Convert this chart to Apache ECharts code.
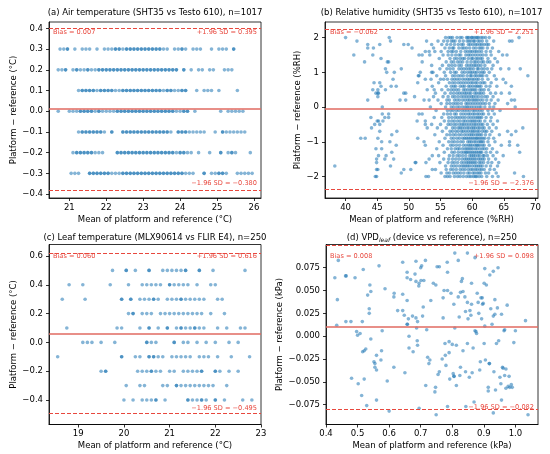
<!DOCTYPE html>
<html>
<head>
<meta charset="utf-8">
<script src="https://cdn.jsdelivr.net/npm/echarts@6/dist/echarts.min.js"></script>
<style>
html, body { margin: 0; padding: 0; background: #fff; }
#container { width: 550px; height: 454px; }
</style>
</head>
<body>
<div id="container"></div>
<script>
// (a) air temperature: difference levels and the means seen on each level
var airLevels = [0.3, 0.2, 0.1, 0.0, -0.1, -0.2, -0.3];
var airMean = [
    [20.75, 20.85, 20.95, 21.15, 21.35, 21.45, 21.55, 21.75, 21.95, 22.05, 22.15, 22.25, 22.35, 22.45, 22.55, 22.65, 22.75, 22.85, 22.95, 23.05, 23.15, 23.25, 23.35, 23.45, 23.55, 23.65, 23.85, 23.95, 24.05, 24.15, 24.35, 24.45, 24.55, 24.85, 25.05, 25.15, 25.25, 25.45],
    [20.7, 20.8, 20.9, 21.1, 21.2, 21.3, 21.4, 21.5, 21.6, 21.7, 21.8, 21.9, 22.0, 22.1, 22.2, 22.3, 22.4, 22.5, 22.6, 22.7, 22.8, 22.9, 23.0, 23.1, 23.2, 23.3, 23.4, 23.5, 23.6, 23.7, 23.8, 23.9, 24.1, 24.3, 24.5, 24.6, 24.8, 24.9, 25.2, 25.3, 25.4],
    [21.25, 21.35, 21.45, 21.55, 21.65, 21.75, 21.85, 21.95, 22.05, 22.15, 22.25, 22.35, 22.45, 22.55, 22.65, 22.75, 22.85, 22.95, 23.05, 23.15, 23.25, 23.35, 23.45, 23.55, 23.65, 23.75, 23.85, 23.95, 24.05, 24.15, 24.45, 24.65, 24.75, 24.85, 25.05, 25.55],
    [20.7, 21.0, 21.1, 21.2, 21.3, 21.4, 21.5, 21.6, 21.7, 21.8, 21.9, 22.0, 22.1, 22.2, 22.3, 22.4, 22.5, 22.6, 22.7, 22.8, 22.9, 23.0, 23.1, 23.2, 23.3, 23.4, 23.5, 23.6, 23.7, 23.8, 23.9, 24.0, 24.1, 24.2, 24.4, 25.1, 25.3, 25.4, 25.5, 25.6, 25.7],
    [21.25, 21.35, 21.45, 21.55, 21.65, 21.75, 21.85, 21.95, 22.15, 22.45, 22.55, 22.65, 22.75, 22.85, 22.95, 23.05, 23.15, 23.25, 23.35, 23.45, 23.55, 23.65, 23.75, 23.95, 24.05, 24.15, 24.25, 24.35, 24.45, 24.55, 24.65, 24.95, 25.15, 25.25, 25.35, 25.45, 25.55, 25.65, 25.75],
    [21.1, 21.2, 21.3, 21.4, 21.5, 21.6, 21.7, 21.8, 21.9, 22.3, 22.4, 22.5, 22.6, 22.7, 22.8, 22.9, 23.0, 23.1, 23.2, 23.3, 23.4, 23.5, 23.6, 23.7, 23.8, 23.9, 24.0, 24.1, 24.2, 24.3, 24.5, 24.8, 25.1, 25.3, 25.4, 25.5, 25.9],
    [21.05, 21.15, 21.25, 21.55, 21.65, 21.75, 21.85, 21.95, 22.05, 22.15, 22.25, 22.35, 22.45, 22.55, 22.65, 22.75, 22.85, 22.95, 23.05, 23.15, 23.25, 23.35, 23.45, 23.55, 23.65, 23.75, 23.85, 23.95, 24.05, 24.15, 24.25, 24.35, 24.65, 24.85, 24.95, 25.05, 25.15, 25.25, 25.55, 25.65, 25.75, 25.85, 25.95]
];
// means that occur more than once on a level (darker dots)
var airRepeat = [
    [20.95, 22.25, 22.35, 22.55, 22.65, 22.75, 22.85, 22.95, 23.05, 23.15, 23.25, 23.35, 23.45, 24.05, 25.45],
    [20.9, 21.2, 21.5, 21.8, 21.9, 22.0, 22.1, 22.2, 22.3, 22.4, 22.5, 22.6, 22.7, 22.8, 22.9, 23.0, 23.1, 23.2, 23.3, 23.4, 23.5, 23.6, 23.7, 23.8, 23.9, 24.1],
    [21.35, 21.45, 21.55, 21.65, 21.85, 21.95, 22.05, 22.15, 22.45, 22.55, 22.65, 22.75, 22.85, 22.95, 23.05, 23.15, 23.25, 23.35, 23.45, 23.65, 23.75, 24.05, 24.15],
    [21.3, 21.4, 21.5, 21.6, 21.8, 22.3, 22.4, 22.5, 22.6, 22.7, 22.8, 22.9, 23.0, 23.1, 23.2, 23.3, 23.4, 23.5, 23.6, 23.7, 23.8, 24.1, 24.2],
    [21.35, 21.45, 21.55, 21.65, 21.75, 21.85, 22.15, 22.45, 22.55, 22.65, 22.75, 22.85, 22.95, 23.05, 23.15, 23.25, 23.35, 23.45, 23.55, 23.65, 23.95, 24.05, 24.15, 25.15],
    [21.2, 21.3, 21.4, 21.5, 21.6, 22.3, 22.4, 22.5, 22.6, 22.7, 22.8, 22.9, 23.0, 23.1, 23.2, 23.3, 23.4, 23.5, 23.6, 23.7, 23.8, 24.0, 24.1, 25.1, 25.4],
    [21.55, 21.65, 21.75, 21.85, 21.95, 22.05, 22.45, 22.55, 22.65, 22.75, 22.85, 22.95, 23.05, 23.15, 23.25, 23.35, 23.45, 23.55, 23.65, 23.75, 23.85, 23.95, 24.05, 24.65, 25.05, 25.15]
];

// (b) relative humidity: scattered points outside the dense band
var rhSparse = [
    [40.0, 2.0], [41.8, 1.9], [43.5, 1.8], [43.5, 1.7], [44.4, 1.7], [45.4, 1.8], [46.9, 2.0], [47.1, 1.9], [49.2, 1.8], [49.9, 1.8], [50.5, 1.7],
    [41.3, 1.5], [43.0, 1.3], [44.3, 1.5], [45.6, 1.4], [46.6, 1.3], [46.8, 1.3], [46.3, 1.1], [46.5, 1.0], [47.7, 1.0], [48.8, 1.1],
    [47.5, 0.8], [44.5, 0.7], [45.4, 0.7], [45.6, 0.6], [47.2, 0.6], [48.0, 0.6], [44.3, 0.5], [45.1, 0.5], [46.3, 0.5], [44.8, 0.4],
    [45.1, 0.4], [45.2, 0.4], [45.1, 0.3], [43.5, 0.2], [48.6, 0.2], [49.5, 0.2], [49.5, 0.4], [50.9, 0.3], [45.8, 0.0], [44.0, -0.3],
    [45.0, -0.4], [45.2, -0.4], [44.6, -0.5], [45.4, -0.5], [45.9, -0.4], [46.2, -0.3], [44.1, -0.6], [46.8, -0.2], [46.8, -0.3], [45.8, -0.2],
    [45.4, -0.7], [47.3, -0.8], [48.1, -0.7], [42.4, -0.9], [43.1, -0.9], [45.1, -0.9], [47.0, -1.0], [45.7, -1.0], [48.0, -1.1], [44.8, -1.2],
    [45.7, -1.2], [47.3, -1.3], [45.2, -1.4], [46.4, -1.4], [44.9, -1.5], [46.2, -1.5], [47.6, -1.5], [38.3, -1.7], [44.9, -1.6], [47.1, -1.7],
    [44.9, -1.8], [45.1, -1.8], [44.7, -2.0], [44.9, -2.0], [49.2, -1.8], [48.8, -1.9], [50.3, -1.8], [51.0, -1.6], [51.1, -1.6], [51.4, -0.9],
    [51.3, -0.4], [51.6, -0.2], [52.1, -0.2], [51.5, 0.9], [51.6, 0.9], [51.8, 1.0], [51.4, 0.7], [52.6, 0.8], [51.6, 1.5], [52.1, 1.5],
    [52.6, 1.6], [52.1, 1.3], [52.8, 1.9], [53.6, 1.8], [53.2, 1.6], [52.6, -0.4], [52.6, -0.5], [52.9, -0.6], [52.4, -1.0], [52.6, -1.1],
    [52.7, -2.0], [53.1, -2.0], [52.7, -1.6], [53.7, -1.4], [53.7, -1.8], [52.9, 0.5], [52.4, 0.2], [53.2, 0.2], [53.6, 1.0], [54.0, 0.5],
    [49.2, 0.4], [67.4, 2.0], [66.3, 1.9], [64.8, 1.5], [67.6, 1.1], [65.8, 1.1], [68.8, 0.9], [64.9, 0.8], [65.3, 0.7], [66.2, 0.6],
    [64.6, 0.4], [66.7, 0.2], [65.6, 0.1], [66.8, 0.0], [68.0, -0.6], [65.6, -0.7], [66.2, -0.8], [65.9, -1.1], [67.2, -1.1], [67.5, -1.3],
    [64.9, -1.4], [68.1, -2.0], [66.7, -1.9], [65.9, 1.9], [65.5, 1.5], [66.9, -0.7], [65.9, -1.0], [65.9, 0.4], [66.2, 0.2]
];
// (b) dense band: one row of means per 0.1 %RH difference level
var rhLevels = [2.0, 1.9, 1.8, 1.7, 1.6, 1.5, 1.4, 1.3, 1.2, 1.1, 1.0, 0.9, 0.8, 0.7, 0.6, 0.5, 0.4, 0.3, 0.2, 0.1, 0.0,
    -0.1, -0.2, -0.3, -0.4, -0.5, -0.6, -0.7, -0.8, -0.9, -1.0, -1.1, -1.2, -1.3, -1.4, -1.5, -1.6, -1.7, -1.8, -1.9, -2.0];
var rhMean = [
    [55.8, 56.3, 56.9, 57.6, 58.4, 59.1, 59.5, 59.9, 60.3, 60.6, 61.0, 61.4, 62.1, 62.7],
    [54.6, 55.5, 56.1, 56.7, 57.3, 58.0, 59.2, 59.8, 60.4, 60.9, 61.6, 62.3, 63.4],
    [55.2, 56.0, 56.6, 57.8, 58.6, 59.4, 60.1, 60.8, 61.2, 61.9, 62.6],
    [53.9, 55.7, 56.4, 57.1, 57.9, 58.7, 59.6, 60.2, 61.1, 61.7, 62.4, 63.2],
    [54.1, 55.1, 56.2, 57.0, 57.5, 58.9, 59.3, 60.0, 60.7, 61.5, 62.9, 64.2],
    [53.3, 55.4, 56.8, 57.4, 58.2, 59.0, 59.7, 60.5, 61.3, 62.2, 63.0],
    [54.8, 56.5, 57.2, 58.1, 58.8, 59.4, 60.1, 60.9, 61.6, 62.5, 63.6],
    [55.9, 56.7, 57.7, 58.5, 59.8, 60.3, 61.0, 61.8, 62.8, 64.0],
    [53.6, 55.3, 56.3, 57.3, 58.3, 59.1, 59.9, 60.6, 61.4, 62.0, 63.3],
    [54.9, 56.0, 57.0, 57.9, 58.7, 59.5, 60.2, 60.8, 61.5, 62.4, 63.1, 64.5],
    [53.8, 55.6, 56.6, 57.5, 58.4, 59.3, 60.0, 60.7, 61.2, 61.9, 62.7],
    [54.4, 55.8, 56.9, 57.8, 58.6, 59.2, 59.7, 60.4, 61.1, 61.7, 62.3, 63.5],
    [53.5, 55.0, 55.5, 56.1, 56.8, 57.6, 58.0, 58.9, 59.6, 60.3, 61.0, 61.6, 62.5, 63.8],
    [54.7, 56.4, 57.3, 58.2, 59.0, 59.8, 60.5, 61.3, 62.0, 63.0],
    [53.7, 55.9, 56.7, 57.4, 58.1, 58.8, 59.4, 60.1, 60.8, 61.4, 62.2, 62.8, 63.9],
    [55.2, 56.2, 57.1, 57.9, 58.6, 59.3, 60.0, 60.6, 61.2, 61.9, 62.6],
    [54.2, 55.7, 56.6, 57.6, 58.4, 59.1, 59.8, 60.4, 61.1, 61.8, 62.9, 63.7],
    [53.9, 55.4, 56.9, 57.8, 58.7, 59.5, 60.2, 61.0, 61.5, 62.4, 63.3],
    [54.6, 56.0, 56.4, 57.2, 58.0, 58.9, 59.6, 60.3, 60.9, 61.7, 62.3, 63.0, 64.1],
    [55.1, 56.5, 57.4, 58.3, 59.0, 59.7, 60.5, 61.3, 62.1, 62.7, 63.6],
    [53.4, 55.8, 56.7, 57.6, 58.5, 59.2, 59.9, 60.7, 61.4, 62.0, 62.8, 63.4],
    [54.3, 56.1, 57.0, 57.9, 58.8, 59.6, 60.1, 60.8, 61.6, 62.5, 63.2, 64.4],
    [55.5, 56.6, 57.5, 58.2, 59.0, 59.7, 60.4, 61.1, 61.8, 62.6, 63.5],
    [54.0, 55.2, 56.3, 57.3, 58.1, 58.9, 59.4, 60.2, 60.9, 61.5, 62.2, 63.0],
    [55.6, 56.8, 57.7, 58.6, 59.3, 60.0, 60.6, 61.3, 62.0, 62.9, 64.0],
    [53.6, 55.0, 56.2, 57.1, 58.0, 58.7, 59.5, 60.3, 61.0, 61.7, 62.4, 63.3],
    [54.5, 55.9, 56.9, 57.8, 58.4, 59.2, 59.9, 60.5, 61.2, 61.9, 62.7, 63.8],
    [55.3, 56.5, 57.4, 58.3, 59.0, 59.8, 60.4, 61.1, 61.6, 62.3, 63.1],
    [54.1, 56.0, 57.0, 57.9, 58.8, 59.6, 60.2, 60.9, 61.5, 62.1, 62.8, 64.3],
    [55.7, 56.7, 57.6, 58.5, 59.1, 59.7, 60.3, 60.8, 61.4, 62.0, 62.6, 63.4],
    [54.8, 56.3, 57.2, 58.2, 59.3, 59.9, 60.6, 61.3, 61.8, 62.5, 63.6],
    [55.4, 56.6, 57.5, 58.6, 59.4, 60.0, 60.7, 61.2, 61.9, 62.7, 64.6],
    [54.4, 56.1, 57.3, 58.0, 58.9, 59.5, 60.1, 60.8, 61.6, 62.3, 63.2],
    [55.6, 56.8, 57.8, 58.7, 59.2, 59.8, 60.4, 61.0, 61.5, 62.2, 62.9, 63.9],
    [54.7, 56.4, 57.6, 58.5, 59.6, 60.2, 60.9, 61.7, 62.4, 63.3],
    [53.2, 55.5, 56.9, 57.9, 58.8, 59.4, 60.0, 60.6, 61.3, 61.9, 62.6, 63.7],
    [54.9, 56.2, 57.2, 58.3, 59.1, 59.7, 60.3, 61.1, 61.8, 62.5, 63.1, 64.2],
    [55.8, 56.7, 57.5, 58.4, 59.0, 59.6, 60.4, 61.0, 61.6, 62.2, 62.9, 64.0],
    [54.2, 55.9, 57.0, 58.1, 58.9, 59.8, 60.5, 61.2, 61.9, 62.8, 63.5],
    [55.1, 56.4, 57.4, 58.2, 59.3, 60.1, 60.8, 61.4, 62.1, 62.6, 63.8],
    [55.7, 56.5, 57.7, 58.6, 59.5, 60.2, 60.7, 61.5, 62.3, 63.2, 64.1]
];
// (b) further means in the core of the band, same levels
var rhMeanCore = [
    [56.6, 58.1, 59.3, 60.0, 60.8, 61.7],
    [57.0, 58.6, 59.5, 60.2, 61.2],
    [57.2, 58.3, 59.7, 60.5, 61.5, 62.3],
    [56.9, 58.4, 59.1, 60.6, 61.4],
    [56.7, 58.2, 59.7, 60.4, 61.1, 62.2],
    [56.2, 57.9, 59.4, 60.1, 60.9, 61.7],
    [57.6, 58.5, 59.9, 60.6, 61.3],
    [57.1, 58.1, 59.2, 60.6, 61.5, 62.4],
    [56.8, 57.9, 59.5, 60.3, 61.0],
    [56.5, 58.3, 59.1, 59.8, 61.0, 61.9],
    [57.2, 58.8, 59.7, 60.4, 61.6],
    [57.3, 58.2, 59.9, 60.7, 61.4],
    [57.2, 58.5, 59.3, 60.0, 60.7],
    [56.9, 57.8, 58.6, 59.4, 60.1, 60.8, 61.7],
    [57.1, 58.5, 59.7, 60.5, 61.1],
    [56.7, 57.5, 58.9, 59.7, 60.3, 61.5],
    [57.1, 58.0, 58.8, 59.5, 60.7, 61.4],
    [56.2, 57.3, 58.3, 59.1, 59.9, 60.6, 62.0],
    [57.6, 58.5, 59.3, 60.0, 60.6, 61.3],
    [56.0, 57.0, 57.8, 59.3, 60.1, 60.9, 61.7],
    [57.1, 58.0, 58.9, 59.5, 60.3, 61.1],
    [56.6, 57.5, 58.4, 59.2, 60.4, 61.2],
    [56.1, 57.2, 58.6, 59.4, 60.1, 60.8, 61.5],
    [56.8, 57.7, 58.5, 59.8, 60.6, 61.2],
    [56.3, 57.2, 58.1, 58.9, 59.7, 60.3, 61.0],
    [56.6, 57.5, 58.4, 59.1, 59.9, 60.6, 61.4],
    [57.3, 58.1, 58.8, 59.5, 60.2, 60.9, 61.6],
    [56.9, 57.8, 58.6, 59.4, 60.1, 60.8, 62.0],
    [56.5, 57.4, 58.3, 59.2, 59.9, 60.6, 61.2],
    [57.1, 58.0, 58.8, 59.4, 60.0, 60.6, 61.1, 61.7],
    [56.8, 57.7, 58.6, 59.6, 60.3, 61.0, 61.5],
    [57.0, 58.0, 59.0, 59.7, 60.4, 60.9, 61.6],
    [56.7, 57.7, 58.5, 59.2, 59.8, 60.5, 61.2, 61.9],
    [57.2, 58.3, 59.0, 59.5, 60.1, 60.7, 61.3],
    [57.0, 58.0, 59.0, 59.9, 60.5, 61.2, 61.9],
    [56.3, 57.4, 58.4, 59.1, 59.7, 60.3, 61.0, 61.6],
    [56.8, 57.7, 58.7, 59.4, 60.0, 60.6, 61.4],
    [57.1, 58.0, 58.7, 59.3, 60.0, 60.7, 61.3],
    [56.6, 57.5, 58.5, 59.4, 60.1, 60.8, 61.5],
    [56.0, 57.0, 57.8, 58.7, 59.6, 60.4, 61.1],
    [56.1, 57.2, 58.1, 59.1, 59.8, 60.5, 61.1]
];

// (c) leaf temperature: a mean listed twice is a doubled dot
var leafLevels = [0.5, 0.4, 0.3, 0.2, 0.1, 0.0, -0.1, -0.2, -0.3, -0.4];
var leafMean = [
    [19.75, 20.05, 20.05, 20.25, 20.55, 20.55, 20.85, 20.95, 21.05, 21.15, 21.25, 21.35, 21.35, 21.65, 21.65, 21.95, 22.65],
    [18.8, 19.1, 19.7, 20.1, 20.4, 20.5, 20.6, 20.7, 20.8, 21.0, 21.0, 21.1, 21.2, 21.3, 21.4, 21.6, 21.9, 22.0],
    [18.65, 19.15, 19.95, 19.95, 20.15, 20.15, 20.35, 20.45, 20.55, 20.65, 20.65, 20.75, 20.95, 21.05, 21.15, 21.25, 21.25, 21.35, 21.45, 21.55, 21.65, 21.75, 22.05, 22.15],
    [20.1, 20.2, 20.2, 20.4, 20.5, 20.6, 20.8, 20.9, 21.0, 21.1, 21.2, 21.3, 21.4, 21.5, 21.6, 21.7, 21.9, 22.2],
    [18.75, 19.85, 19.95, 20.35, 20.55, 20.55, 20.75, 20.95, 20.95, 21.15, 21.25, 21.25, 21.35, 21.45, 21.55, 21.55, 21.65, 21.75, 22.05, 22.25, 22.55, 22.65],
    [19.1, 19.2, 19.3, 19.5, 19.8, 20.5, 20.5, 20.6, 20.7, 21.1, 21.1, 21.3, 21.4, 21.6, 21.8, 22.0, 22.3, 22.5],
    [18.55, 19.95, 19.95, 20.25, 20.35, 20.55, 20.55, 20.65, 20.65, 20.75, 20.85, 21.05, 21.15, 21.25, 21.35, 21.45, 21.65, 21.75, 21.85, 22.05, 22.35, 22.75],
    [19.5, 19.6, 19.6, 20.3, 20.4, 20.5, 20.6, 20.6, 20.7, 20.8, 21.0, 21.1, 21.3, 21.4, 21.5, 21.6, 21.7, 21.7, 22.0, 22.0, 22.1, 22.3, 22.5],
    [20.05, 20.35, 20.45, 20.85, 20.95, 21.15, 21.15, 21.25, 21.35, 21.45, 21.55, 21.65, 21.75, 21.85, 21.95, 22.25],
    [20.0, 20.2, 20.4, 20.5, 20.6, 20.7, 20.7, 20.9, 21.4, 21.4, 21.5, 21.6, 21.7, 21.7, 21.8, 22.0, 22.0, 22.2, 22.6, 22.8]
];

// (d) VPD leaf: [mean, difference] in kPa
var vpdPoints = [
    [0.428, 0.064], [0.436, 0.040], [0.439, 0.083], [0.434, 0.012], [0.462, 0.066], [0.464, 0.066], [0.463, 0.016], [0.479, 0.016],
    [0.481, -0.046], [0.492, 0.064], [0.497, 0.005], [0.500, 0.001], [0.502, -0.052], [0.508, 0.003], [0.513, -0.065], [0.515, 0.016],
    [0.518, 0.073], [0.516, -0.017], [0.521, -0.016], [0.521, -0.047], [0.526, -0.014], [0.529, -0.076], [0.532, 0.045], [0.537, 0.030],
    [0.537, 0.025], [0.539, 0.056], [0.542, 0.049], [0.542, -0.003], [0.552, -0.028], [0.555, -0.030], [0.555, -0.034], [0.560, -0.037],
    [0.560, -0.021], [0.560, -0.070], [0.568, 0.077], [0.574, -0.026], [0.576, -0.016], [0.578, 0.006], [0.587, 0.052], [0.594, -0.049],
    [0.600, -0.082], [0.615, 0.043], [0.616, 0.047], [0.615, -0.034], [0.627, 0.028], [0.643, 0.081], [0.643, 0.046], [0.643, 0.028],
    [0.648, 0.023], [0.650, -0.040], [0.657, 0.070], [0.657, 0.064], [0.657, 0.039], [0.657, 0.013], [0.658, 0.013], [0.661, 0.019],
    [0.663, 0.000], [0.663, -0.013], [0.668, 0.062], [0.674, 0.022], [0.676, -0.017], [0.682, 0.068], [0.685, 0.082], [0.685, 0.060],
    [0.685, 0.020], [0.687, 0.009], [0.689, -0.005], [0.690, -0.010], [0.690, 0.016], [0.694, 0.055], [0.695, 0.058], [0.695, -0.079],
    [0.700, 0.075], [0.701, 0.061], [0.703, 0.077], [0.706, 0.022], [0.710, 0.061], [0.708, 0.032], [0.715, 0.083], [0.716, -0.054],
    [0.719, 0.007], [0.722, -0.023], [0.726, -0.030], [0.729, -0.026], [0.732, 0.039], [0.740, 0.058], [0.745, -0.061], [0.747, -0.056],
    [0.749, -0.086], [0.748, 0.056], [0.752, 0.076], [0.755, -0.042], [0.759, 0.076], [0.759, -0.039], [0.768, -0.025], [0.771, 0.042],
    [0.771, 0.020], [0.774, 0.050], [0.777, -0.008], [0.778, -0.021], [0.780, -0.032], [0.784, 0.081], [0.785, 0.050], [0.785, 0.070],
    [0.785, -0.077], [0.790, -0.018], [0.792, -0.047], [0.790, -0.006], [0.796, 0.047], [0.800, -0.009], [0.803, -0.041], [0.805, 0.035],
    [0.805, -0.044], [0.806, -0.044], [0.808, 0.091], [0.808, 0.009], [0.813, -0.010], [0.813, -0.054], [0.819, 0.083], [0.819, 0.043],
    [0.822, 0.021], [0.824, -0.043], [0.826, -0.034], [0.826, 0.048], [0.829, 0.060], [0.832, 0.063], [0.834, 0.049], [0.834, -0.016],
    [0.840, 0.043], [0.842, 0.027], [0.842, -0.039], [0.843, -0.077], [0.848, 0.091], [0.848, 0.037], [0.848, -0.008], [0.850, 0.019],
    [0.854, -0.045], [0.856, 0.028], [0.859, 0.023], [0.861, 0.058], [0.861, 0.035], [0.863, -0.040], [0.866, -0.013], [0.869, -0.072],
    [0.872, 0.086], [0.872, 0.006], [0.875, 0.005], [0.877, 0.003], [0.879, 0.047], [0.882, 0.037], [0.884, 0.025], [0.887, -0.037],
    [0.889, -0.028], [0.891, 0.042], [0.893, 0.019], [0.895, 0.042], [0.896, 0.035], [0.898, 0.036], [0.901, 0.058], [0.901, -0.008],
    [0.903, 0.074], [0.903, 0.011], [0.905, -0.026], [0.908, 0.056], [0.914, -0.056], [0.914, -0.060], [0.917, -0.030], [0.918, -0.030],
    [0.919, 0.067], [0.922, 0.030], [0.926, 0.013], [0.930, 0.071], [0.930, 0.022], [0.930, -0.084], [0.932, -0.039], [0.935, 0.024],
    [0.935, 0.040], [0.937, -0.059], [0.940, -0.008], [0.943, 0.031], [0.945, 0.075], [0.947, -0.005], [0.951, -0.045], [0.954, -0.052],
    [0.956, 0.024], [0.956, -0.070], [0.959, -0.034], [0.961, -0.035], [0.964, 0.006], [0.966, 0.007], [0.966, -0.043], [0.970, -0.036],
    [0.970, -0.057], [0.974, 0.034], [0.977, -0.055], [0.980, -0.044], [0.982, -0.056], [0.987, -0.053], [0.990, -0.056], [0.995, -0.007],
    [1.000, 0.006], [1.032, 0.017], [1.040, -0.086]
];

// Bland-Altman statistics per panel (a, b, c, d)
var biasVals = [0.007, -0.062, 0.060, 0.008];
var upperVals = [0.395, 2.251, 0.616, 0.098];
var lowerVals = [-0.380, -2.376, -0.495, -0.082];

// tick labels
var airXTicks = [21, 22, 23, 24, 25, 26];
var airYTicks = [-0.4, -0.3, -0.2, -0.1, 0, 0.1, 0.2, 0.3, 0.4];
var rhXTicks = [40, 45, 50, 55, 60, 65, 70];
var rhYTicks = [-2, -1, 0, 1, 2];
var leafXTicks = [19, 20, 21, 22, 23];
var leafYTicks = [-0.4, -0.2, 0, 0.2, 0.4, 0.6];
var vpdXTicks = [0.4, 0.5, 0.6, 0.7, 0.8, 0.9, 1.0];
var vpdYTicks = [-0.075, -0.050, -0.025, 0, 0.025, 0.050, 0.075];

var FONT = 'DejaVu Sans';
var DOT = '#1f77b4';
var RED = '#e8483e';

function rowsToPoints(levels, rows) {
    var pts = [];
    rows.forEach(function (r, i) {
        r.forEach(function (x) { pts.push([x, levels[i]]); });
    });
    return pts;
}

function fmt(digits) {
    return function (v) { return v.toFixed(digits).replace('-', '\u2212'); };
}

function xAxisOf(idx, min, max, ticks, digits, name) {
    return {
        type: 'value', gridIndex: idx, min: min, max: max,
        name: name, nameLocation: 'middle', nameGap: 17,
        nameTextStyle: { fontFamily: FONT, fontSize: 8.5, color: '#000' },
        axisLine: { show: true, onZero: false, lineStyle: { color: '#000', width: 0.8 } },
        axisTick: { show: true, length: 3, lineStyle: { color: '#000', width: 0.8 }, customValues: ticks },
        axisLabel: { fontFamily: FONT, fontSize: 8.5, color: '#000', margin: 5, customValues: ticks, formatter: fmt(digits) },
        splitLine: { show: false }
    };
}

function yAxisOf(idx, min, max, ticks, digits, name, gap) {
    return {
        type: 'value', gridIndex: idx, min: min, max: max,
        name: name, nameLocation: 'middle', nameGap: gap,
        nameTextStyle: { fontFamily: FONT, fontSize: 8.5, color: '#000' },
        axisLine: { show: true, onZero: false, lineStyle: { color: '#000', width: 0.8 } },
        axisTick: { show: true, length: 3, lineStyle: { color: '#000', width: 0.8 }, customValues: ticks },
        axisLabel: { fontFamily: FONT, fontSize: 8.5, color: '#000', margin: 6, customValues: ticks, formatter: fmt(digits) },
        splitLine: { show: false }
    };
}

function scatterOf(idx, data, size) {
    return {
        type: 'scatter', xAxisIndex: idx, yAxisIndex: idx, data: data,
        symbolSize: size, silent: true,
        itemStyle: { color: DOT, opacity: 0.55 }
    };
}

function limitsOf(idx) {
    return {
        type: 'line', xAxisIndex: idx, yAxisIndex: idx, data: [], silent: true,
        markLine: {
            symbol: 'none', silent: true, label: { show: false }, animation: false,
            data: [
                { yAxis: biasVals[idx], lineStyle: { color: '#e06a60', width: 1.6, type: 'solid' } },
                { yAxis: upperVals[idx], lineStyle: { color: RED, width: 1, type: [4, 2] } },
                { yAxis: lowerVals[idx], lineStyle: { color: RED, width: 1, type: [4, 2] } }
            ]
        }
    };
}

function label(x, y, text, align, size, color, italic) {
    return {
        type: 'text', x: x, y: y, silent: true,
        style: {
            text: text, fill: color, fontFamily: FONT, fontSize: size,
            fontStyle: italic ? 'italic' : 'normal',
            align: align, verticalAlign: 'middle', textAlign: align, textVerticalAlign: 'middle'
        }
    };
}

var airPts = rowsToPoints(airLevels, airMean).concat(rowsToPoints(airLevels, airRepeat));
var rhPts = rhSparse.concat(rowsToPoints(rhLevels, rhMean), rowsToPoints(rhLevels, rhMeanCore));
var leafPts = rowsToPoints(leafLevels, leafMean);

var dom = document.getElementById('container');
var myChart = echarts.init(dom, null, { renderer: 'canvas' });
var option = {
    animation: false,
    backgroundColor: '#fff',
    grid: [
        { left: 49, top: 22, width: 212, height: 176, show: true, borderColor: '#000', borderWidth: 0.8 },
        { left: 325, top: 22, width: 213, height: 176, show: true, borderColor: '#000', borderWidth: 0.8 },
        { left: 49, top: 244.5, width: 212, height: 180, show: true, borderColor: '#000', borderWidth: 0.8 },
        { left: 326, top: 244.5, width: 212, height: 180, show: true, borderColor: '#000', borderWidth: 0.8 }
    ],
    xAxis: [
        xAxisOf(0, 20.45, 26.19, airXTicks, 0, 'Mean of platform and reference (°C)'),
        xAxisOf(1, 36.75, 70.4, rhXTicks, 0, 'Mean of platform and reference (%RH)'),
        xAxisOf(2, 18.36, 23.0, leafXTicks, 0, 'Mean of platform and reference (°C)'),
        xAxisOf(3, 0.4, 1.0716, vpdXTicks, 1, 'Mean of platform and reference (kPa)')
    ],
    yAxis: [
        yAxisOf(0, -0.419, 0.431, airYTicks, 1, 'Platform \u2212 reference (°C)', 31),
        yAxisOf(1, -2.62, 2.45, rhYTicks, 0, 'Platform \u2212 reference (%RH)', 22),
        yAxisOf(2, -0.570, 0.680, leafYTicks, 1, 'Platform \u2212 reference (°C)', 31),
        yAxisOf(3, -0.0967, 0.1004, vpdYTicks, 3, 'Platform \u2212 reference (kPa)', 42)
    ],
    series: [
        scatterOf(0, airPts, 3.6), limitsOf(0),
        scatterOf(1, rhPts, 3.6), limitsOf(1),
        scatterOf(2, leafPts, 3.6), limitsOf(2),
        scatterOf(3, vpdPoints, 3.6), limitsOf(3)
    ],
    graphic: [
        label(155, 13, '(a) Air temperature (SHT35 vs Testo 610), n=1017', 'center', 8.5, '#000'),
        label(431.5, 13, '(b) Relative humidity (SHT35 vs Testo 610), n=1017', 'center', 8.5, '#000'),
        label(155, 237.5, '(c) Leaf temperature (MLX90614 vs FLIR E4), n=250', 'center', 8.5, '#000'),
        // (d) title with a subscript: three pieces laid side by side
        label(346.7, 237.5, '(d) VPD', 'left', 8.5, '#000'),
        label(378.9, 240, 'leaf', 'left', 6, '#000', true),
        label(390, 237.5, ' (device vs reference), n=250', 'left', 8.5, '#000'),

        label(53, 32, 'Bias = 0.007', 'left', 6.6, RED),
        label(257, 32, '+1.96 SD = 0.395', 'right', 6.6, RED),
        label(257, 183, '\u22121.96 SD = \u22120.380', 'right', 6.6, RED),

        label(330, 32, 'Bias = \u22120.062', 'left', 6.6, RED),
        label(534, 32, '+1.96 SD = 2.251', 'right', 6.6, RED),
        label(534, 183, '\u22121.96 SD = \u22122.376', 'right', 6.6, RED),

        label(53, 256.3, 'Bias = 0.060', 'left', 6.6, RED),
        label(257, 256.3, '+1.96 SD = 0.616', 'right', 6.6, RED),
        label(257, 408.7, '\u22121.96 SD = \u22120.495', 'right', 6.6, RED),

        label(330, 256.3, 'Bias = 0.008', 'left', 6.6, RED),
        label(534, 256.3, '+1.96 SD = 0.098', 'right', 6.6, RED),
        label(534, 407.3, '\u22121.96 SD = \u22120.082', 'right', 6.6, RED)
    ]
};

if (option && typeof option === 'object') {
    myChart.setOption(option);
}
</script>
</body>
</html>
